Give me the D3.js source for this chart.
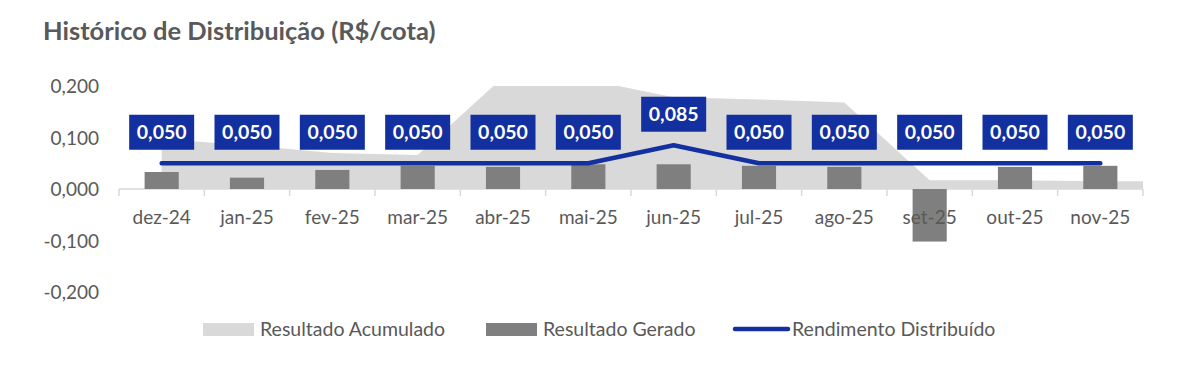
<!DOCTYPE html>
<html>
<head>
<meta charset="utf-8">
<script src="https://cdn.jsdelivr.net/npm/d3@7"></script>
<style>
	body { margin: 0; background: #ffffff; }
	svg text { font-family: Lato, "Open Sans", sans-serif; }
</style>
</head>
<body>
<div id="containerChart"></div>
<script>

// months on the x axis
var months = ["dez-24", "jan-25", "fev-25", "mar-25", "abr-25", "mai-25",
	"jun-25", "jul-25", "ago-25", "set-25", "out-25", "nov-25"];

// resultado acumulado (area, R$/cota)
var accumulated = [0.097, 0.085, 0.070, 0.066, 0.217, 0.212,
	0.178, 0.174, 0.168, 0.017, 0.017, 0.015];

// resultado gerado (bars, R$/cota)
var generated = [0.033, 0.022, 0.037, 0.045, 0.043, 0.048,
	0.048, 0.045, 0.043, -0.102, 0.043, 0.045];

// rendimento distribuido (line, R$/cota)
var distributed = [0.050, 0.050, 0.050, 0.050, 0.050, 0.050,
	0.085, 0.050, 0.050, 0.050, 0.050, 0.050];

// y axis ticks
var yTicks = [-0.2, -0.1, 0, 0.1, 0.2];

var legendNames = ["Resultado Acumulado", "Resultado Gerado", "Rendimento Distribuído"];

function drawChart() {

	// characteristics for SVG element
	var width = 1204;
	var height = 390;
	var leftMargin = 119;
	var rightMargin = 61;
	var topMargin = 86;
	var bottomY = 292;
	var textColor = "#595959";
	var blue = "#1330a0";

	// number format with comma as decimal sign
	var fmt = function(v) { return d3.format(".3f")(v).replace(".", ",").replace("−", "-"); };

	var svg = d3.select("#containerChart")
		.append("svg")
		.attr("width", width)
		.attr("height", height);

	// scales
	var xScale = d3.scaleBand()
		.domain(months)
		.range([leftMargin, width - rightMargin])
		.padding(0);
	var yScale = d3.scaleLinear()
		.domain([-0.2, 0.2])
		.range([bottomY, topMargin]);

	var center = function(i) { return xScale(months[i]) + xScale.bandwidth() / 2; };

	// clip everything to the plot area
	svg.append("clipPath")
		.attr("id", "plotClip")
		.append("rect")
		.attr("x", leftMargin)
		.attr("y", topMargin)
		.attr("width", width - rightMargin - leftMargin)
		.attr("height", bottomY - topMargin);

	// title
	svg.append("text")
		.attr("x", 43)
		.attr("y", 40)
		.style("font-size", "25.5px")
		.style("font-weight", "bold")
		.style("fill", textColor)
		.text("Histórico de Distribuição (R$/cota)");

	// area points, last value held until the end of the axis
	var areaPoints = accumulated.map(function(d, i) { return [center(i), d]; });
	areaPoints.push([xScale.range()[1], accumulated[accumulated.length - 1]]);

	var area = d3.area()
		.x(function(d) { return d[0]; })
		.y0(yScale(0))
		.y1(function(d) { return yScale(d[1]); });

	svg.append("path")
		.datum(areaPoints)
		.attr("clip-path", "url(#plotClip)")
		.attr("d", area)
		.style("fill", "#d9d9d9");

	// x axis line with ticks between months
	var x_axis = d3.axisBottom(xScale)
		.tickSize(0)
		.tickPadding(0)
		.tickFormat("");
	var xAxis = svg.append("g")
		.attr("transform", "translate(0," + yScale(0) + ")")
		.call(x_axis);
	xAxis.select(".domain").remove();
	xAxis.append("line")
		.attr("x1", xScale.range()[0])
		.attr("x2", xScale.range()[1])
		.style("stroke", "#d9d9d9")
		.style("stroke-width", 1.5);
	xAxis.selectAll(".sep")
		.data(months.concat([null]))
		.enter()
		.append("line")
		.attr("class", "sep")
		.attr("x1", function(d, i) { return xScale.range()[0] + i * xScale.bandwidth(); })
		.attr("x2", function(d, i) { return xScale.range()[0] + i * xScale.bandwidth(); })
		.attr("y1", 0)
		.attr("y2", 7)
		.style("stroke", "#d9d9d9")
		.style("stroke-width", 1.5);

	// bars
	var barWidth = xScale.bandwidth() * 0.4;
	svg.selectAll(".bar")
		.data(generated)
		.enter()
		.append("rect")
		.attr("class", "bar")
		.attr("x", function(d, i) { return center(i) - barWidth / 2; })
		.attr("y", function(d) { return yScale(Math.max(d, 0)); })
		.attr("width", barWidth)
		.attr("height", function(d) { return Math.abs(yScale(d) - yScale(0)); })
		.style("fill", "#7f7f7f");

	// month labels (on top of bars)
	svg.selectAll(".month")
		.data(months)
		.enter()
		.append("text")
		.attr("class", "month")
		.attr("x", function(d, i) { return center(i); })
		.attr("y", yScale(0) + 35)
		.style("text-anchor", "middle")
		.style("font-size", "19px")
		.style("fill", textColor)
		.text(function(d) { return d; });

	// y axis labels
	var y_axis = d3.axisLeft(yScale)
		.tickValues(yTicks)
		.tickSize(0)
		.tickPadding(0)
		.tickFormat(fmt);
	var yAxis = svg.append("g")
		.attr("transform", "translate(99,0)")
		.call(y_axis);
	yAxis.select(".domain").remove();
	yAxis.selectAll("text")
		.style("font-size", "19px")
		.style("font-family", "Lato, sans-serif")
		.style("fill", textColor)
		.attr("dy", "0.35em");

	// distributed line
	var line = d3.line()
		.x(function(d, i) { return center(i); })
		.y(function(d) { return yScale(d); });
	svg.append("path")
		.datum(distributed)
		.attr("d", line)
		.style("fill", "none")
		.style("stroke", blue)
		.style("stroke-width", 4.5)
		.style("stroke-linecap", "round")
		.style("stroke-linejoin", "round");

	// value boxes above the line
	var boxW = 65;
	var boxH = 35;
	var labels = svg.selectAll(".valueLabel")
		.data(distributed)
		.enter()
		.append("g")
		.attr("class", "valueLabel")
		.attr("transform", function(d, i) {
			return "translate(" + center(i) + "," + (yScale(d) - 31) + ")";
		});
	labels.append("rect")
		.attr("x", -boxW / 2)
		.attr("y", -boxH / 2)
		.attr("width", boxW)
		.attr("height", boxH)
		.style("fill", blue);
	labels.append("text")
		.attr("y", 7)
		.style("text-anchor", "middle")
		.style("font-size", "19.5px")
		.style("font-weight", "bold")
		.style("fill", "#ffffff")
		.text(function(d) { return fmt(d); });

	// legend
	var legendY = 329;
	var legendX = [203, 486, 733];
	var legend = svg.selectAll(".legendItem")
		.data(legendNames)
		.enter()
		.append("g")
		.attr("class", "legendItem")
		.attr("transform", function(d, i) { return "translate(" + legendX[i] + "," + legendY + ")"; });
	legend.filter(function(d, i) { return i < 2; })
		.append("rect")
		.attr("x", 0)
		.attr("y", -6)
		.attr("width", 51)
		.attr("height", 13)
		.style("fill", function(d, i) { return i == 0 ? "#d9d9d9" : "#7f7f7f"; });
	legend.filter(function(d, i) { return i == 2; })
		.append("line")
		.attr("x1", 2)
		.attr("x2", 55)
		.style("stroke", blue)
		.style("stroke-width", 4.5)
		.style("stroke-linecap", "round");
	legend.append("text")
		.attr("x", function(d, i) { return i == 2 ? 59 : 57; })
		.attr("y", 7)
		.style("font-size", "19.5px")
		.style("fill", textColor)
		.text(function(d) { return d; });
};

drawChart();
</script>
</body>
</html>
